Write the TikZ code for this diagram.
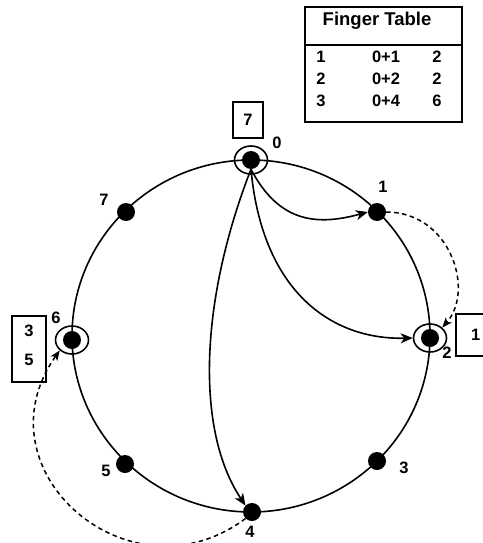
\documentclass[tikz,border=0pt]{standalone}
\usepackage{fontspec}
\setmainfont{Liberation Sans}
\usetikzlibrary{arrows.meta,shapes.geometric}
\begin{document}
\begin{tikzpicture}[x=1pt,y=-1pt,
  ringline/.style={line width=1.6pt},
  dot/.style={circle,fill=black,inner sep=0pt,minimum size=18pt},
  ringnode/.style={ellipse,draw,line width=1.6pt,minimum width=33pt,minimum height=28pt,inner sep=0pt},
  lbl/.style={font=\fontsize{16.5}{18}\selectfont\bfseries,inner sep=0pt},
  boxnode/.style={draw,line width=1.6pt,inner sep=0pt,font=\fontsize{16.5}{18}\selectfont\bfseries},
  arr/.style={line width=1.6pt,-{Stealth[length=12pt,width=10pt,inset=3.5pt]}},
  darr/.style={line width=1.5pt,dash pattern=on 4.5pt off 3.5pt,-{Stealth[length=10pt,width=8pt,inset=2.5pt]}}
]
\useasboundingbox (0,0) rectangle (482,543);

% ring
\draw[ringline] (251,336) ellipse [x radius=179, y radius=176];

% dots
\node[dot] (n0) at (251,160) {};
\node[dot] (n1) at (377,212) {};
\node[dot] (n2) at (430,338) {};
\node[dot] (n3) at (377,461) {};
\node[dot] (n4) at (252,512) {};
\node[dot] (n5) at (125,464) {};
\node[dot] (n6) at (72,340) {};
\node[dot] (n7) at (126,212) {};

% rings around 0, 2, 6
\node[ringnode] (r0) at (n0) {};
\node[ringnode] (r2) at (n2) {};
\node[ringnode] (r6) at (n6) {};

% labels
\node[lbl] (l0) at (277,143) {0};
\node[lbl] (l1) at (383,187) {1};
\node[lbl] (l2) at (447,353) {2};
\node[lbl] (l3) at (404,468) {3};
\node[lbl] (l4) at (250,532) {4};
\node[lbl] (l5) at (106,471) {5};
\node[lbl] (l6) at (56,318) {6};
\node[lbl] (l7) at (104,200) {7};

% boxes
\node[boxnode,minimum width=30pt,minimum height=36pt] (b0) at (248,120) {7};
\node[boxnode,minimum width=40pt,minimum height=42pt,text width=38pt] (b2) at (476,335) {\hspace*{14pt}1};
\node[boxnode,minimum width=34pt,minimum height=66pt] (b6) at (29,349) {};
\node[lbl] (b6a) at (29,331) {3};
\node[lbl] (b6b) at (29,360) {5};

% finger table
\node[draw,line width=1.6pt,minimum width=157pt,minimum height=115pt,inner sep=0pt] (ft) at (383.5,64.5) {};
\coordinate (ftl) at (305,45);
\coordinate (ftr) at (462,45);
\draw[line width=1.6pt] (ftl) -- (ftr);
\node[lbl,font=\fontsize{18.5}{20}\selectfont\bfseries] (fth) at (377,21) {Finger Table};
\node[lbl] (f11) at (321,57) {1};
\node[lbl] (f12) at (386,57) {0+1};
\node[lbl] (f13) at (437,57) {2};
\node[lbl] (f21) at (321,79) {2};
\node[lbl] (f22) at (386,79) {0+2};
\node[lbl] (f23) at (437,79) {2};
\node[lbl] (f31) at (321,101) {3};
\node[lbl] (f32) at (386,101) {0+4};
\node[lbl] (f33) at (437,101) {6};

% arrows from 0
\draw[arr] (n0.south) .. controls (280,225) and (320,225) .. (n1.west);
\draw[arr] (n0.south) .. controls (262,290) and (330,340) .. (r2.west);
\draw[arr] (n0.south) .. controls (200,300) and (195,430) .. (n4.north west);

% dashed
\draw[darr] (n1.east) .. controls (450,212) and (475,290) .. (r2.north east);
\draw[darr] (n4.south west) .. controls (130,605) and (-25,470) .. (r6.south west);
\end{tikzpicture}
\end{document}
